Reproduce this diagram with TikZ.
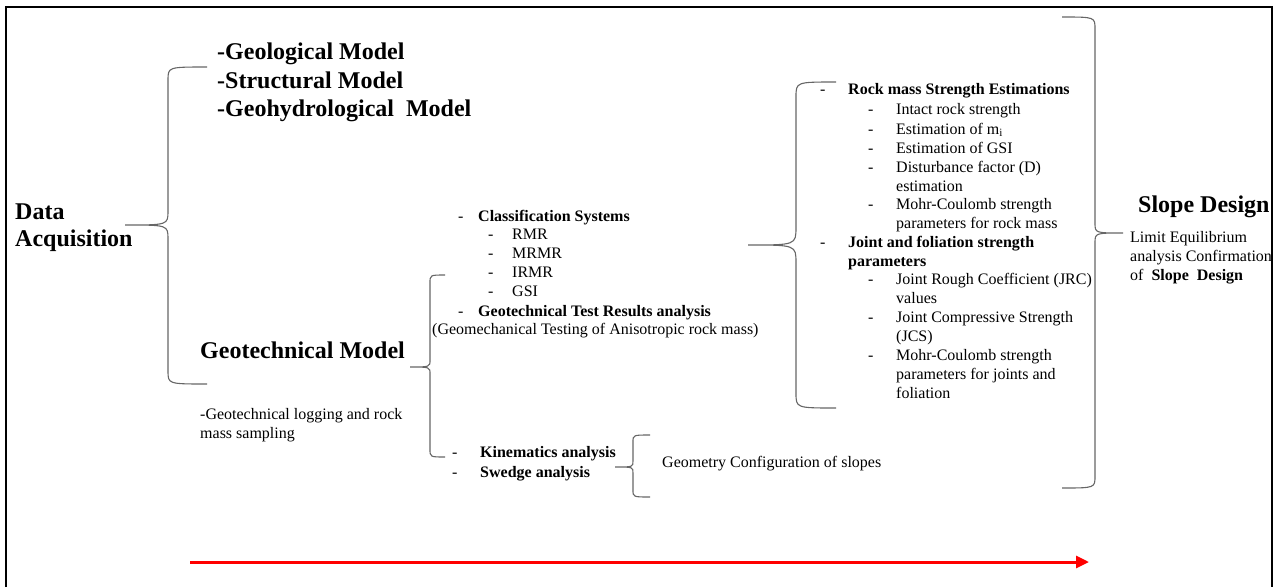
\documentclass[tikz,border=0pt]{standalone}
\usepackage{fontspec}
\setmainfont{Liberation Serif}
\usetikzlibrary{arrows.meta}
\tikzset{
  big/.style={font={\fontsize{24}{28}\selectfont\bfseries}, anchor=base west, inner sep=0pt},
  txt/.style={font={\fontsize{16}{19}\selectfont}, anchor=base west, inner sep=0pt},
  btxt/.style={font={\fontsize{16}{19}\selectfont\bfseries}, anchor=base west, inner sep=0pt},
  bracestyle/.style={draw=black!60, line width=1.1pt},
  frame/.style={draw=black, line width=2pt},
  flow/.style={draw=red, line width=3pt, -{Triangle[length=13pt,width=12pt]}}
}
% #1 end x, #2 vertical x, #3 tip x, #4 top y, #5 mid y, #6 bottom y, #7 end curve height, #8 tip curve height
\newcommand\mybrace[8]{%
  \draw[bracestyle] (#1,#4) .. controls (#2,#4) .. (#2,{#4+#7}) -- (#2,{#5-#8})
    .. controls (#2,#5) .. (#3,#5) .. controls (#2,#5) .. (#2,{#5+#8})
    -- (#2,{#6-#7}) .. controls (#2,#6) .. (#1,#6);}
\begin{document}
\begin{tikzpicture}[x=1pt,y=-1pt]
\useasboundingbox (0,0) rectangle (1286,587);
% frame
\draw[frame] (6,587) -- (6,7) -- (1272,7) -- (1272,587);

% Data acquisition
\node[big] (data) at (15,219) {Data};
\node[big] (acq) at (15,246) {Acquisition};
\node[big] (geol) at (217,59) {-Geological Model};
\node[big] (struc) at (217,88) {-Structural Model};
\node[big] (hydro) at (217,116) {-Geohydrological\ \ Model};
\node[big] (geot) at (200,358) {Geotechnical Model};
\node[txt] (log1) at (200,419) {-Geotechnical logging and rock};
\node[txt] (log2) at (200,438) {mass sampling};

% classification block
\node[txt] (d1) at (458,221) {-};
\node[btxt] (cls) at (478,221) {Classification Systems};
\node[txt] (d2) at (488,239) {-};
\node[txt] (rmr) at (512,239) {RMR};
\node[txt] (d3) at (488,258) {-};
\node[txt] (mrmr) at (512,258) {MRMR};
\node[txt] (d4) at (488,277) {-};
\node[txt] (irmr) at (512,277) {IRMR};
\node[txt] (d5) at (488,296) {-};
\node[txt] (gsi) at (512,296) {GSI};
\node[txt] (d6) at (458,316) {-};
\node[btxt] (gtr) at (478,316) {Geotechnical Test Results analysis};
\node[txt] (geom) at (432,334) {(Geomechanical Testing of Anisotropic rock mass)};

% rock mass block
\node[txt] (e1) at (820,94) {-};
\node[btxt] (rms) at (848,94) {Rock mass Strength Estimations};
\node[txt] (e2) at (868,114) {-};
\node[txt] (irs) at (896,114) {Intact rock strength};
\node[txt] (e3) at (868,134) {-};
\node[txt] (emi) at (896,134) {Estimation of m\textsubscript{i}};
\node[txt] (e4) at (868,153) {-};
\node[txt] (egsi) at (896,153) {Estimation of GSI};
\node[txt] (e5) at (868,172) {-};
\node[txt] (dist) at (896,172) {Disturbance factor (D)};
\node[txt] (dist2) at (896,191) {estimation};
\node[txt] (e6) at (868,209) {-};
\node[txt] (mc1) at (896,209) {Mohr-Coulomb strength};
\node[txt] (mc1b) at (896,228) {parameters for rock mass};
\node[txt] (e7) at (820,247) {-};
\node[btxt] (jfs) at (848,247) {Joint and foliation strength};
\node[btxt] (jfs2) at (848,266) {parameters};
\node[txt] (e8) at (868,284) {-};
\node[txt] (jrc) at (896,284) {Joint Rough Coefficient (JRC)};
\node[txt] (jrc2) at (896,303) {values};
\node[txt] (e9) at (868,322) {-};
\node[txt] (jcs) at (896,322) {Joint Compressive Strength};
\node[txt] (jcs2) at (896,341) {(JCS)};
\node[txt] (e10) at (868,360) {-};
\node[txt] (mc2) at (896,360) {Mohr-Coulomb strength};
\node[txt] (mc2b) at (896,379) {parameters for joints and};
\node[txt] (mc2c) at (896,398) {foliation};

% kinematics
\node[txt] (k1) at (452,457) {-};
\node[btxt] (kin) at (480,457) {Kinematics analysis};
\node[txt] (k2) at (452,477) {-};
\node[btxt] (swe) at (480,477) {Swedge analysis};
\node[txt] (geo) at (662,467) {Geometry Configuration of slopes};

% slope design
\node[big] (sd) at (1138,212) {Slope Design};
\node[txt] (le1) at (1130,242) {Limit Equilibrium};
\node[txt] (le2) at (1130,261) {analysis Confirmation};
\node[txt] (le3) at (1130,280) {of\ \ \textbf{Slope\ \ Design}};

% braces
\mybrace{207}{168}{125}{67}{225}{384}{13}{14}
\mybrace{445}{430}{410}{275}{367}{457}{8}{7}
\mybrace{836}{796}{748}{82}{245}{408}{15}{18}
\mybrace{1062}{1095}{1123}{17}{233}{488}{12}{10}
\mybrace{650}{633}{615}{435}{467}{497}{7}{6}

% arrow
\coordinate (as) at (190,562);
\coordinate (ae) at (1089,562);
\draw[flow] (as) -- (ae);
\end{tikzpicture}
\end{document}
